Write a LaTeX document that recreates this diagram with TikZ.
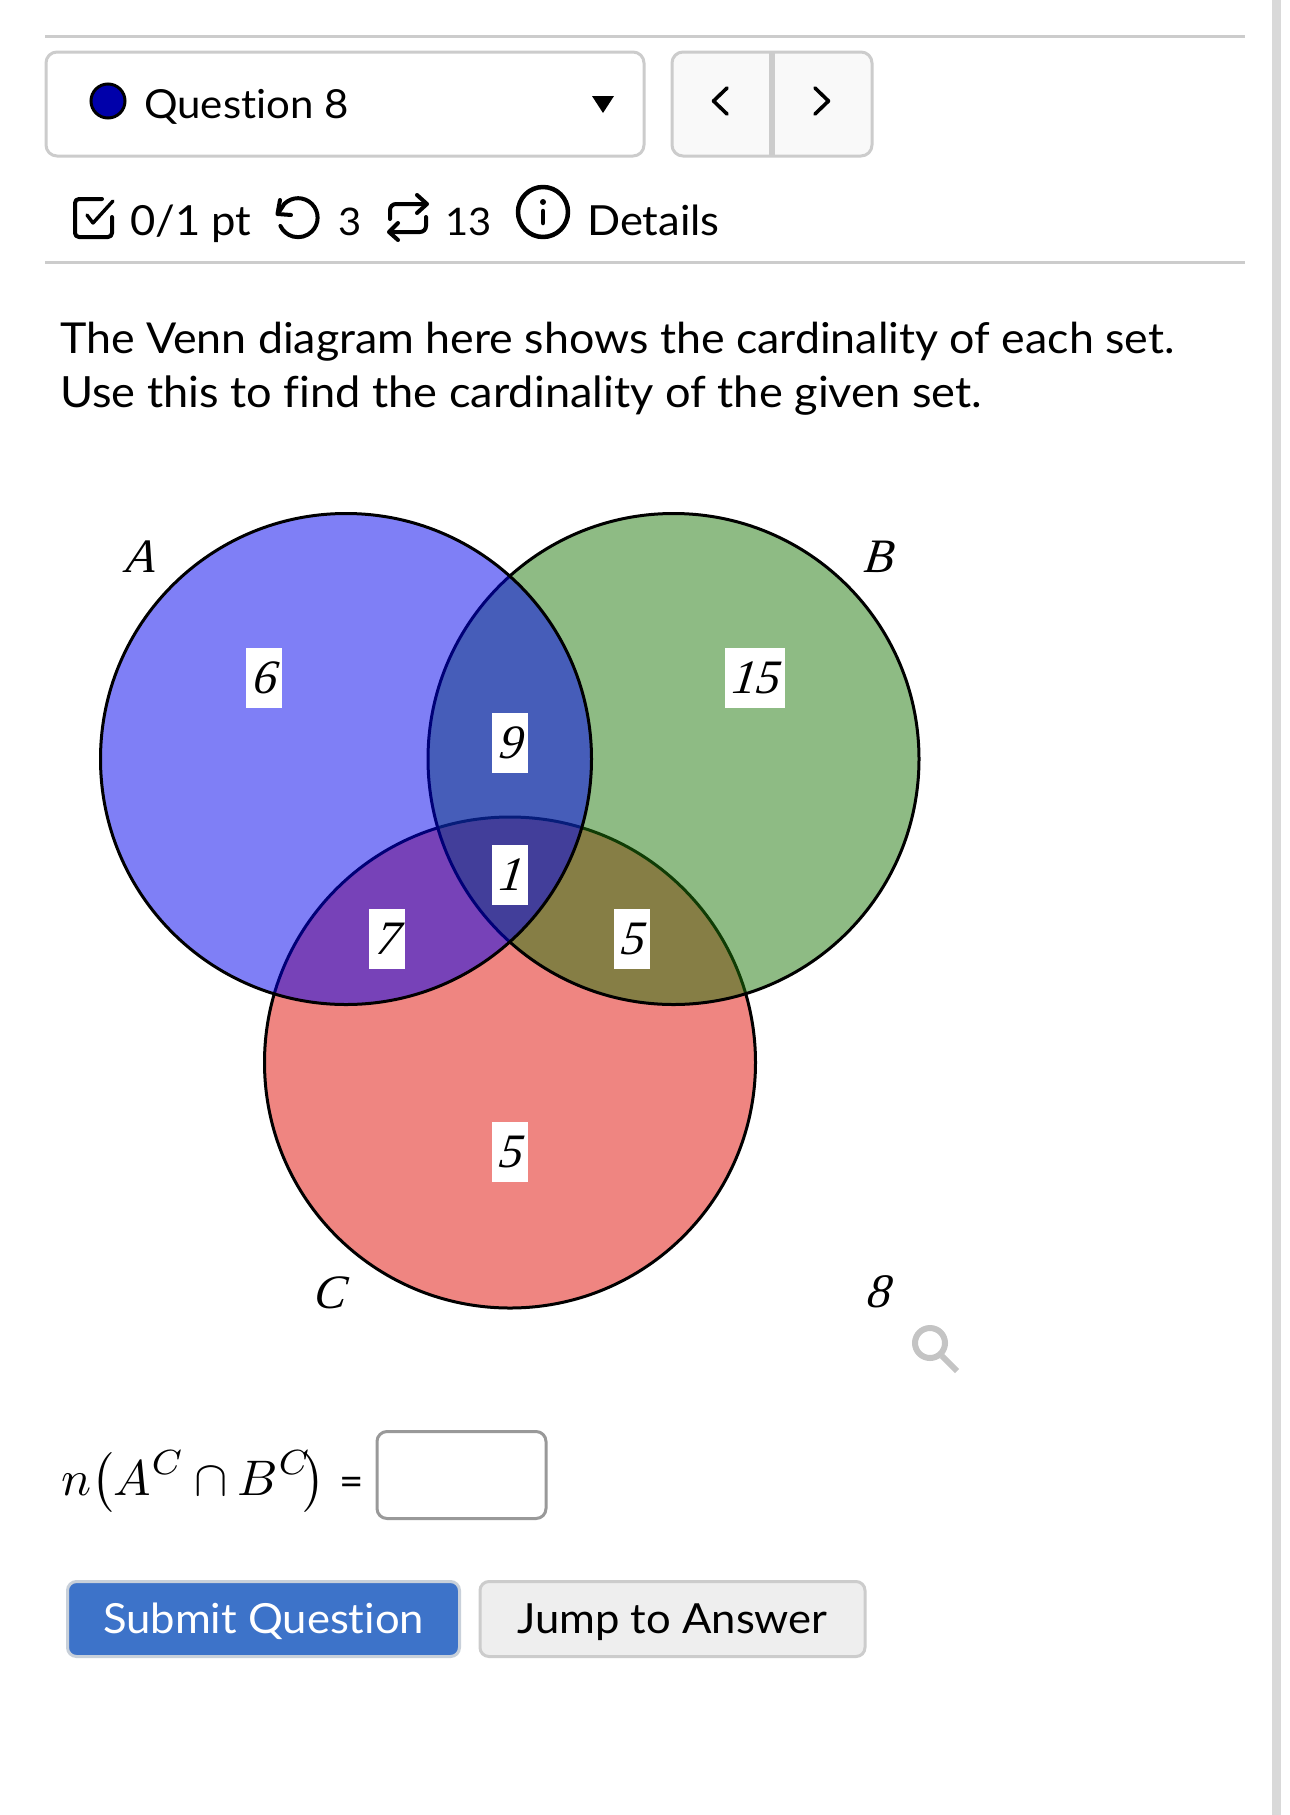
\documentclass[tikz,border=0pt]{standalone}
\usepackage{fontspec}
\setmainfont{Lato}[FakeStretch=1.05,Ligatures=NoCommon]
\newfontfamily\venntimes{Liberation Serif Italic}[FakeSlant=0.13]
\newcommand{\pxsize}[1]{\fontsize{#1pt}{#1pt}\selectfont}
\definecolor{rulegrey}{HTML}{CCCCCC}
\definecolor{scrollgrey}{HTML}{D9D9D9}
\definecolor{navfill}{HTML}{F9F9F9}
\definecolor{dotblue}{HTML}{0000AA}
\definecolor{setA}{RGB}{0,0,239}
\definecolor{setB}{RGB}{31,121,11}
\definecolor{setC}{RGB}{225,13,5}
\definecolor{submitblue}{HTML}{3D73C9}
\definecolor{submitedge}{HTML}{C8D0DA}
\definecolor{jumpfill}{HTML}{EEEEEE}
\definecolor{inputedge}{HTML}{999999}
\definecolor{lensgrey}{HTML}{C4C4C4}
\tikzset{
  uitext/.style={inner sep=0pt,anchor=base west,font=\pxsize{41.5}},
  vennset/.style={fill opacity=0.5,draw opacity=1,draw=black,line width=3pt},
  vennnum/.style={fill=white,inner sep=0pt,minimum height=60pt,font=\venntimes\pxsize{48}},
  vennname/.style={inner sep=0pt,font=\venntimes\pxsize{48}},
  rulerline/.style={draw=rulegrey,line width=3pt},
  boxedge/.style={draw=rulegrey,line width=3pt,rounded corners=11pt},
  icon/.style={draw=black,line width=4pt,line cap=round,line join=round},
  btn/.style={rounded corners=9pt,line width=3pt,minimum height=75pt,inner sep=0pt,font=\pxsize{41.5}}
}
\begin{document}
\begin{tikzpicture}[x=1pt,y=-1pt]
\useasboundingbox (0,0) rectangle (1290,1815);
\fill[white] (0,0) rectangle (1290,1815);
\fill[scrollgrey] (1272,0) rectangle (1281,1815);
% rules
\draw[rulerline] (45,36) -- (1245,36);
\draw[rulerline] (45,262) -- (1245,262);
% question selector
\draw[boxedge,fill=white] (46,52) rectangle (644,156);
\fill[dotblue,draw=black,line width=3pt] (108,101) circle[radius=17pt];
\node[uitext,font=\pxsize{40}] (qlabel) at (144,118) {Question 8};
\fill[black] (592,96) -- (614,96) -- (603,113) -- cycle;
% navigation
\draw[boxedge,fill=navfill] (672,52) rectangle (872,156);
\draw[rulegrey,line width=5.5pt] (772,52) -- (772,156);
\draw[icon,line width=3.6pt] (727,88) -- (713.5,101) -- (727,114);
\draw[icon,line width=3.6pt] (815,88) -- (828.5,101) -- (815,114);
% status row
\draw[icon,rounded corners=4pt] (102,199) -- (75,199) -- (75,237) -- (112,237) -- (112,217);
\draw[icon,line width=3.4pt] (87,215) -- (93,223) -- (113,201);
\node[uitext] (score) at (130,235) {0/1 pt};
\draw[icon] (279,212) -- (284.3,203.9) arc[start angle=135,end angle=-155,radius=19.5pt];
\draw[icon] (280,200) -- (277.5,214) -- (291,215);
\node[uitext,font=\pxsize{38}] (tries) at (338,235) {3};
\draw[icon,rounded corners=6pt] (390,219) -- (390,204) -- (426,204);
\draw[icon] (417,195) -- (427,204) -- (417,213);
\draw[icon,rounded corners=6pt] (426,217) -- (426,232) -- (390,232);
\draw[icon] (398,223) -- (389,232) -- (398,240);
\node[uitext,font=\pxsize{38}] (attempts) at (445,235) {13};
\draw[icon,line width=4.5pt] (543,212) circle[radius=25pt];
\fill[black] (543,202) circle[radius=3pt];
\draw[icon,line width=4.5pt] (543,211) -- (543,223);
\node[uitext] (details) at (587,235) {Details};
% prompt
\node[uitext,font=\pxsize{42.6}] (promptone) at (60,353) {The Venn diagram here shows the cardinality of each set.};
\node[uitext,font=\pxsize{43}] (prompttwo) at (60,407) {Use this to find the cardinality of the given set.};
% venn diagram: C under B under A
\path[vennset,fill=setC] (510,1062.5) circle[radius=245.5pt];
\path[vennset,fill=setB] (673.5,759) circle[radius=245.5pt];
\path[vennset,fill=setA] (346,759) circle[radius=245.5pt];
% region numbers
\node[vennnum,minimum width=36pt] (nsix) at (264,678) {6};
\node[vennnum,minimum width=60pt] (nfifteen) at (755,678) {15};
\node[vennnum,minimum width=36pt] (nnine) at (510,743) {9};
\node[vennnum,minimum width=36pt] (none) at (510,875) {1};
\node[vennnum,minimum width=36pt] (nseven) at (387,939) {7};
\node[vennnum,minimum width=36pt] (nfivebc) at (632,939) {5};
\node[vennnum,minimum width=36pt] (nfivec) at (510,1152) {5};
\node[vennname] (setnameA) at (140,557) {A};
\node[vennname] (setnameB) at (878,557) {B};
\node[vennname] (setnameC) at (330,1293) {C};
\node[vennname] (outside) at (878,1292) {8};
% magnifier
\draw[lensgrey,line width=6pt] (930,1343) circle[radius=15pt];
\draw[lensgrey,line width=6pt] (942,1356) -- (957,1371);
% answer line
\node[inner sep=0pt,anchor=base west,scale=5] (formula) at (60,1495) {$n\bigl(A^{\raisebox{0.5pt}{$\scriptstyle C$}}\mkern-0.5mu\cap\mkern-0.5mu B^{\raisebox{0.5pt}{$\scriptstyle C$}}\mkern-3.5mu\bigr)$};
\node[uitext,font=\pxsize{40}] (equals) at (339,1495) {=};
\node[draw=inputedge,line width=3pt,rounded corners=10pt,fill=white,minimum width=169pt,minimum height=87pt,inner sep=0pt] (answerbox) at (461.5,1475) {};
% buttons
\node[btn,draw=submitedge,fill=submitblue,text=white,minimum width=392pt] (submit) at (263.5,1619) {\raisebox{-14pt}[0pt][0pt]{Submit Question}};
\node[btn,draw=rulegrey,fill=jumpfill,minimum width=385pt] (jump) at (672.5,1619) {\raisebox{-14pt}[0pt][0pt]{Jump to Answer}};
\end{tikzpicture}
\end{document}
